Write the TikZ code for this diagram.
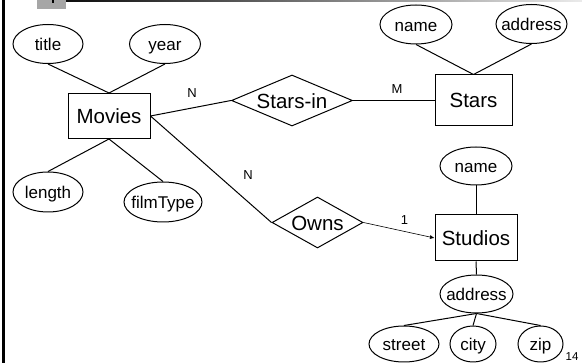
\documentclass[tikz,border=0pt]{standalone}
\usepackage{fontspec}
\setmainfont{Liberation Sans}
\usetikzlibrary{shapes.geometric,arrows.meta}
\begin{document}
\begin{tikzpicture}[x=1pt,y=-1pt,
  ent/.style={draw, line width=1pt, rectangle, inner sep=0pt,
    text height=15pt, text depth=0pt, font=\fontsize{20.5}{24}\selectfont},
  attr/.style={draw, line width=1pt, ellipse, inner xsep=-14pt, inner ysep=-12pt,
    minimum height=39pt, text height=13.5pt, text depth=0pt,
    font=\fontsize{17}{20}\selectfont},
  rel/.style={draw, line width=1pt, diamond, inner xsep=-22pt, inner ysep=-12pt,
    aspect=2.4, text height=16pt, text depth=0pt, font=\fontsize{20.5}{24}\selectfont},
  lnk/.style={line width=1pt},
  card/.style={font=\fontsize{13}{15}\selectfont, inner sep=0pt}]
\useasboundingbox (0,0) rectangle (582,363);
\fill[white] (0,0) rectangle (582,363);
% slide frame decorations
\shade[left color=black, right color=black!8] (37,0) rectangle (582,1.3);
\fill[black!35] (37,0) rectangle (66,9);
\fill[black] (52,0) rectangle (54,3);
\fill[black] (2,0) rectangle (5,363);

% Movies
\node[ent, minimum width=82pt, minimum height=45pt] (movies) at (109,116) {Movies};
\node[attr, minimum width=70pt] (title) at (48,44) {title};
\node[attr, minimum width=71pt] (year) at (165,44) {year};
\node[attr, minimum width=70pt, minimum height=40pt] (length) at (48,192) {length};
\node[attr, minimum width=78pt, minimum height=40pt] (filmtype) at (163,202) {filmType};

% Stars
\node[rel, minimum width=121pt, minimum height=51pt] (starsin) at (292,100.5) {Stars-in};
\node[ent, minimum width=77pt, minimum height=51pt] (stars) at (473.5,100.5) {Stars};
\node[attr, minimum width=72pt] (sname) at (416,24.5) {name};
\node[attr, minimum width=71pt] (saddr) at (531.5,24) {address};

% Studios
\node[rel, minimum width=91pt, minimum height=51pt, aspect=1.8] (owns) at (317.5,222.5) {Owns};
\node[ent, minimum width=82pt, minimum height=46pt] (studios) at (476,238) {Studios};
\node[attr, minimum width=72pt, minimum height=38pt] (stname) at (476,166) {name};
\node[attr, minimum width=73pt, minimum height=38pt] (staddr) at (476.5,294) {address};
\node[attr, minimum width=70pt, minimum height=36pt] (street) at (404,344) {street};
\node[attr, minimum width=46pt, minimum height=36pt] (city) at (473,344) {city};
\node[attr, minimum width=45pt, minimum height=36pt] (zip) at (540.5,344) {zip};

% connectors
\draw[lnk] (title.south) -- (movies.north);
\draw[lnk] (year.south) -- (movies.north);
\draw[lnk] (movies.south) -- (length.north);
\draw[lnk] (movies.south) -- (filmtype.north);
\draw[lnk] (movies.east) -- (starsin.west);
\draw[lnk] (starsin.east) -- (stars.west);
\draw[lnk] (sname.south) -- (stars.north);
\draw[lnk] (saddr.south) -- (stars.north);
\draw[lnk] (movies.east) -- (owns.west);
\draw[line width=0.6pt, -{Latex[length=4.5pt,width=4pt]}] (owns.east) -- (studios.west);
\draw[lnk] (stname.south) -- (studios.north);
\draw[lnk] (studios.south) -- (staddr.north);
\draw[lnk] (staddr.south) -- (street.north);
\draw[lnk] (staddr.south) -- (city.north);
\draw[lnk] (staddr.south) -- (zip.north);

% cardinalities
\node[card] (n1) at (192,93) {N};
\node[card] (m1) at (397,89) {M};
\node[card] (n2) at (248,175) {N};
\node[card] (one) at (404.5,220.5) {1};
\node[font=\fontsize{11.5}{13}\selectfont, inner sep=0pt] (pg) at (572,357) {14};
\end{tikzpicture}
\end{document}
